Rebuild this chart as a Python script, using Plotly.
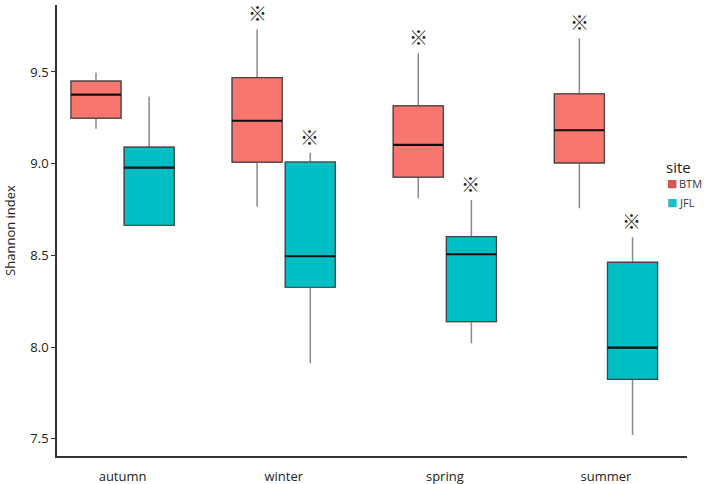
import plotly.graph_objects as go

seasons = ["autumn", "winter", "spring", "summer"]
sites = ["BTM", "JFL"]

btm_low = [9.19, 8.766, 8.811, 8.757]
btm_q1 = [9.248, 9.008, 8.926, 9.004]
btm_med = [9.376, 9.234, 9.102, 9.182]
btm_q3 = [9.45, 9.469, 9.315, 9.38]
btm_high = [9.496, 9.733, 9.602, 9.684]

jfl_low = [8.664, 7.912, 8.021, 7.521]
jfl_q1 = [8.664, 8.326, 8.139, 7.824]
jfl_med = [8.978, 8.495, 8.506, 7.997]
jfl_q3 = [9.09, 9.009, 8.602, 8.462]
jfl_high = [9.365, 9.06, 8.802, 8.599]

btm_sig = [False, True, True, True]
jfl_sig = [False, True, True, True]

colors = {"BTM": "#F8766D", "JFL": "#00BFC4"}
legend_colors = {"BTM": "#D9534F", "JFL": "#1BBFC4"}
data = {
    "BTM": (btm_low, btm_q1, btm_med, btm_q3, btm_high, btm_sig),
    "JFL": (jfl_low, jfl_q1, jfl_med, jfl_q3, jfl_high, jfl_sig),
}

fig = go.Figure()
for site in sites:
    low, q1, med, q3, high, sig = data[site]
    # whiskers (grey)
    fig.add_trace(go.Box(
        x=seasons, q1=q1, median=med, q3=q3, lowerfence=low, upperfence=high,
        name=site, offsetgroup=site, showlegend=False, boxpoints=False,
        fillcolor=colors[site], line=dict(color="#8a8a8a", width=1.5),
        whiskerwidth=0, hoverinfo="skip"))
    # box body
    fig.add_trace(go.Box(
        x=seasons, q1=q1, median=med, q3=q3, lowerfence=q1, upperfence=q3,
        name=site, offsetgroup=site, showlegend=False, boxpoints=False,
        fillcolor=colors[site], line=dict(color="#4a4040", width=1.2),
        whiskerwidth=0))
    # median (thick black)
    fig.add_trace(go.Box(
        x=seasons, q1=med, median=med, q3=med, lowerfence=med, upperfence=med,
        name=site, offsetgroup=site, showlegend=False, boxpoints=False,
        fillcolor="rgba(0,0,0,0)", line=dict(color="#111111", width=2.2),
        whiskerwidth=0, hoverinfo="skip"))

annotations = []
for site, shift in (("BTM", -26), ("JFL", 26)):
    low, q1, med, q3, high, sig = data[site]
    for s, h, flag in zip(seasons, high, sig):
        if flag:
            annotations.append(dict(
                x=s, y=h, xref="x", yref="y", text="※", showarrow=False,
                xshift=shift, yshift=1, yanchor="bottom",
                font=dict(size=19, color="#222222", family="Noto Sans CJK JP")))

# legend drawn as text (title + square glyphs + labels), pixel positions
legend_items = []
legend_items.append(dict(x=664, y=167, text="site", size=15, color="#222222", family="Open Sans"))
for i, site in enumerate(sites):
    yy = 183.5 + i * 19
    legend_items.append(dict(x=665, y=yy, text="■", size=11, color=legend_colors[site], family="DejaVu Sans"))
    legend_items.append(dict(x=677, y=yy, text=site, size=11, color="#333333", family="Open Sans"))

L, R, T, B = 57, 17, 5, 28
W, H = 704, 484
pw, ph = W - L - R, H - T - B
for it in legend_items:
    annotations.append(dict(
        x=(it["x"] - L) / pw, y=(H - B - it["y"]) / ph, xref="paper", yref="paper",
        text=it["text"], showarrow=False, xanchor="left", yanchor="middle",
        font=dict(size=it["size"], color=it["color"], family=it["family"])))

fig.update_layout(
    width=W, height=H,
    margin=dict(l=L, r=R, t=T, b=B, autoexpand=False),
    plot_bgcolor="white", paper_bgcolor="white",
    boxmode="group", boxgap=0.34, boxgroupgap=0.06,
    font=dict(family="Open Sans", size=13, color="#222222"),
    annotations=annotations,
    showlegend=False,
)
fig.update_xaxes(
    type="category", range=[-0.407, 3.503],
    showline=True, linecolor="#333333", linewidth=1.5,
    ticks="outside", ticklen=8, tickcolor="rgba(0,0,0,0)",
    showgrid=False, tickfont=dict(size=13), zeroline=False)
fig.update_yaxes(
    range=[7.406, 9.865], tickvals=[7.5, 8.0, 8.5, 9.0, 9.5],
    ticktext=["7.5", "8.0", "8.5", "9.0", "9.5"],
    showline=True, linecolor="#333333", linewidth=1.5,
    ticks="outside", ticklen=4, tickcolor="#333333",
    showgrid=False, zeroline=False, tickfont=dict(size=13),
    title=dict(text="Shannon index", font=dict(size=13), standoff=12))

fig.write_html(
    "out.html",
    config={"displayModeBar": False},
    post_script="document.body.style.margin='0';document.body.style.overflow='hidden';",
)
